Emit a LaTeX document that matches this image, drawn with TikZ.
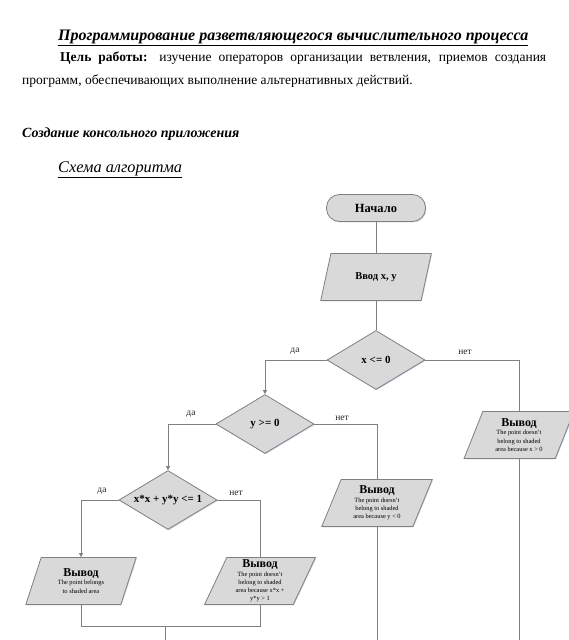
\documentclass[tikz,border=0pt]{standalone}
\usepackage{fontspec}
\setmainfont{Liberation Serif}
\usetikzlibrary{shapes.geometric,arrows.meta,shadows}
\definecolor{boxgray}{RGB}{217,217,217}
\definecolor{linegray}{RGB}{128,128,128}
\definecolor{shadowblue}{RGB}{190,200,225}
\newcommand{\outtext}[1]{\begin{minipage}{64pt}\centering\fontsize{12}{12}\selectfont\textbf{Вывод}\par\fontsize{6.4}{8.2}\selectfont #1\par\end{minipage}}
\begin{document}
\begin{tikzpicture}[x=1pt,y=-1pt,
  conn/.style={draw=linegray, line width=0.8pt},
  arr/.style={conn, -{Triangle[width=4pt,length=4pt]}},
  shp/.style={fill=boxgray, draw=linegray, line width=0.8pt,
    drop shadow={shadow xshift=0.8pt, shadow yshift=-0.9pt, fill=shadowblue, opacity=0.7}},
  term/.style={shp, rectangle, rounded corners=13pt, minimum width=99pt, minimum height=27pt, inner sep=0pt,
    font=\fontsize{12.5}{14}\selectfont\bfseries},
  dec/.style={shp, diamond, minimum width=98pt, minimum height=59pt, inner sep=0pt,
    font=\fontsize{11}{13}\selectfont\bfseries},
  io/.style={shp, trapezium, trapezium left angle=63, trapezium right angle=117, trapezium stretches,
    minimum width=111pt, minimum height=47pt, inner sep=0pt, align=center},
  lbl/.style={inner sep=0pt, text=black!85, font=\fontsize{9.5}{10}\selectfont}
]
\useasboundingbox (0,0) rectangle (569,640);

% header text
\node[anchor=base west, inner sep=0pt, font=\fontsize{16}{18}\selectfont\bfseries\itshape] (title) at (58,40)
  {\underline{Программирование разветвляющегося вычислительного процесса}};
\node[anchor=north west, inner sep=0pt, text width=524pt, align=justify, font=\fontsize{13.5}{23}\selectfont] (goal) at (22,52)
  {\hspace*{38pt}\textbf{Цель работы:} изучение операторов организации ветвления, приемов создания\linebreak
   программ, обеспечивающих выполнение альтернативных действий.};
\node[anchor=base west, inner sep=0pt, font=\fontsize{14}{16}\selectfont\bfseries\itshape] (sect) at (22,137)
  {Создание консольного приложения};
\node[anchor=base west, inner sep=0pt, font=\fontsize{16.3}{19}\selectfont\itshape] (scheme) at (58,172)
  {\underline{Схема алгоритма}};

% flowchart nodes
\node[term] (start) at (376,208) {Начало};
\node[io, font=\fontsize{10.5}{12}\selectfont\bfseries] (input) at (376,277) {Ввод x, y};
\node[dec] (d1) at (376,360) {\makebox[0pt]{x <= 0}};
\node[dec] (d2) at (265,424) {\makebox[0pt]{y >= 0}};
\node[dec] (d3) at (168,500) {\makebox[0pt]{x*x + y*y <= 1}};
\node[io] (o1) at (519,435) {\outtext{The point doesn't\\belong to shaded\\area because x > 0}};
\node[io] (o2) at (377,503) {\outtext{The point doesn't\\belong to shaded\\area because y < 0}};
\node[io] (o3) at (81,581) {\outtext{The point belongs\\to shaded area}};
\node[io] (o4) at (260,581) {\outtext{The point doesn't\\belong to shaded\\area because x*x +\\y*y > 1}};

% connectors
\draw[conn] (start) -- (input.center |- input.north);
\draw[conn] (input.center |- input.south) -- (d1.north);
\draw[arr] (d1.west) -| (d2.north);
\draw[conn] (d1.east) -| (o1.center |- o1.north);
\draw[arr] (d2.west) -| (d3.north);
\draw[conn] (d2.east) -| (o2.center |- o2.north);
\draw[arr] (d3.west) -| (o3.center |- o3.north);
\draw[conn] (d3.east) -| (o4.center |- o4.north);

\coordinate (m) at (165,626);
\coordinate (e1) at (165,641);
\draw[conn] (o3.center |- o3.south) -- (o3.center |- m) -- (o4.center |- m) -- (o4.center |- o4.south);
\draw[conn] (m) -- (e1);
\draw[conn] (o2.center |- o2.south) -- (o2.center |- e1);
\draw[conn] (o1.center |- o1.south) -- (o1.center |- e1);

% branch labels
\node[lbl] (l1) at (295,351) {да};
\node[lbl] (l2) at (465,352) {нет};
\node[lbl] (l3) at (191,414) {да};
\node[lbl] (l4) at (342,418) {нет};
\node[lbl] (l5) at (102,491) {да};
\node[lbl] (l6) at (236,493) {нет};
\end{tikzpicture}
\end{document}
